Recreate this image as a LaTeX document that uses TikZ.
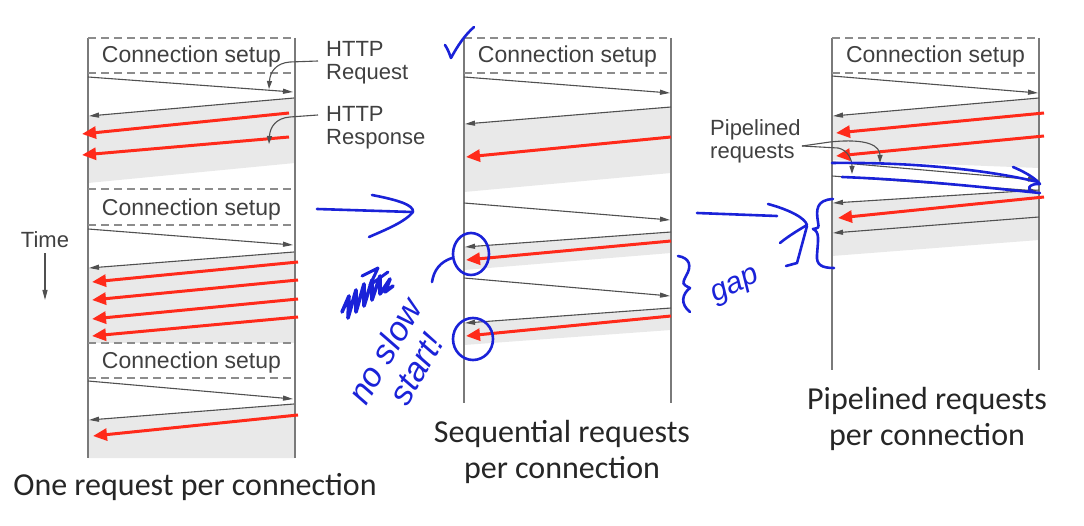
\documentclass[tikz,border=0pt]{standalone}
\usepackage{fontspec}
\setmainfont{Liberation Sans}
\newfontfamily\capfont{Carlito}
\usetikzlibrary{arrows.meta}
\definecolor{lanegray}{HTML}{7A7A7A}
\definecolor{dashgray}{HTML}{8C8C8C}
\definecolor{msggray}{HTML}{505050}
\definecolor{bandgray}{HTML}{E9E9E9}
\definecolor{txtgray}{HTML}{404040}
\definecolor{redarrow}{HTML}{FF2A1A}
\definecolor{inkblue}{HTML}{1A22D8}
\tikzset{
  lane/.style={draw=lanegray, line width=1.4pt},
  setupline/.style={draw=dashgray, line width=1.5pt, dash pattern=on 8pt off 5pt},
  msg/.style={draw=msggray, line width=1.1pt, -{Triangle[length=10pt,width=5pt]}},
  redmsg/.style={draw=redarrow, line width=3pt, -{Triangle[length=14pt,width=12pt]}},
  band/.style={fill=bandgray, draw=none},
  callout/.style={draw=msggray, line width=1.1pt, -{Triangle[length=8pt,width=5pt]}},
  ink/.style={draw=inkblue, line width=2.6pt, line cap=round, line join=round},
  lbl/.style={text=txtgray, font=\fontsize{22}{23}\selectfont, inner sep=0pt, align=left},
  setuptxt/.style={text=txtgray, font=\fontsize{23}{26}\selectfont, inner sep=0pt},
  caption/.style={font=\capfont\fontsize{32}{36}\selectfont, text=black!85, align=center, inner sep=0pt},
  inktxt/.style={text=inkblue, font=\itshape\fontsize{30}{34}\selectfont, inner sep=0pt}
}
\begin{document}
\begin{tikzpicture}[x=1pt,y=-1pt]
\useasboundingbox (0,0) rectangle (1084,526);

% ================= LEFT PANEL =================
\fill[band] (88,116) -- (295,98) -- (295,163) -- (88,183) -- cycle;
\fill[band] (88,268) -- (295,252) -- (295,343) -- (88,343) -- cycle;
\fill[band] (88,420) -- (295,404) -- (295,458) -- (88,458) -- cycle;
\draw[lane] (88,38) -- (88,458);
\draw[lane] (295,38) -- (295,458);
\foreach \y in {38,73,189,225,343,378} \draw[setupline] (88,\y) -- (295,\y);
\node[setuptxt] (cs1) at (191.5,57) {Connection setup};
\node[setuptxt] (cs2) at (191.5,210) {Connection setup};
\node[setuptxt] (cs3) at (191.5,363) {Connection setup};
% block 1
\draw[msg] (88,77) -- (293,92);
\draw[msg] (294,98) -- (89,116);
\draw[redmsg] (289,113) -- (82,134);
\draw[redmsg] (289,137) -- (82,155);
% block 2
\draw[msg] (88,229) -- (293,245);
\draw[msg] (294,252) -- (89,268);
\draw[redmsg] (298,262) -- (92,282);
\draw[redmsg] (298,280) -- (92,300);
\draw[redmsg] (298,299) -- (92,319);
\draw[redmsg] (298,317) -- (92,336);
% block 3
\draw[msg] (88,381) -- (293,399);
\draw[msg] (294,404) -- (89,420);
\draw[redmsg] (298,415) -- (93,436);
% labels
\node[lbl, anchor=west] (req) at (326,63) {HTTP\\Request};
\node[lbl, anchor=west] (resp) at (326,128) {HTTP\\Response};
\draw[callout] (318,61) -- (290,62) .. controls (276,63) and (270,72) .. (269,89);
\draw[callout] (318,115) -- (290,117) .. controls (276,118) and (270,127) .. (269,144);
\node[lbl] (time) at (45,240) {Time};
\draw[msg] (time.south) ++(0,5) coordinate (t0) -- (45,300);
\node[caption] (c1) at (195,487) {One request per connection};

% ================= MIDDLE PANEL =================
\fill[band] (464,124) -- (671,107) -- (671,173) -- (464,192) -- cycle;
\fill[band] (464,247) -- (671,232) -- (671,253) -- (464,270) -- cycle;
\fill[band] (464,323) -- (671,308) -- (671,330) -- (464,345) -- cycle;
\draw[lane] (464,38) -- (464,403);
\draw[lane] (671,38) -- (671,403);
\foreach \y in {38,73} \draw[setupline] (464,\y) -- (671,\y);
\node[setuptxt] (cs4) at (567.5,57) {Connection setup};
\draw[msg] (464,77) -- (670,93);
\draw[msg] (671,107) -- (465,124);
\draw[redmsg] (671,137) -- (466,157);
\draw[msg] (464,203) -- (670,220);
\draw[msg] (671,232) -- (465,247);
\draw[redmsg] (671,241) -- (466,260);
\draw[msg] (464,278) -- (670,296);
\draw[msg] (671,308) -- (465,323);
\draw[redmsg] (671,316) -- (466,336);
\node[caption] (c2) at (562,452) {Sequential requests\\per connection};

% ================= RIGHT PANEL =================
\fill[band] (832,116) -- (1039,98) -- (1039,168) -- (832,160) -- cycle;
\fill[band] (832,203) -- (1039,190) -- (1039,240) -- (832,256) -- cycle;
\draw[lane] (832,38) -- (832,370);
\draw[lane] (1039,38) -- (1039,370);
\foreach \y in {38,73} \draw[setupline] (832,\y) -- (1039,\y);
\node[setuptxt] (cs5) at (935.5,57) {Connection setup};
\draw[msg] (832,76) -- (1038,93);
\draw[msg] (1039,98) -- (833,116);
\draw[redmsg] (1044,113) -- (836,133);
\draw[redmsg] (1044,136) -- (836,156);
\draw[msg] (832,162) -- (1038,180);
\draw[msg] (832,176) -- (1038,191);
\draw[msg] (1039,190) -- (833,203);
\draw[redmsg] (1044,197) -- (838,218);
\draw[msg] (1039,217) -- (833,233);
\node[lbl, anchor=west] (pipe) at (710,141) {Pipelined\\requests};
\draw[callout] (802,146) -- (830,142) .. controls (868,138) and (880,146) .. (880,163);
\draw[callout] (802,146) -- (838,148) .. controls (848,150) and (852,160) .. (852,174);
\node[caption] (c3) at (927,419) {Pipelined requests\\per connection};

% ================= BLUE INK =================
% check mark
\draw[ink] (445,45) .. controls (448,50) .. (451,58) .. controls (458,45) and (465,35) .. (474,27);
% arrow 1
\draw[ink] (317,209) -- (412,212);
\draw[ink] (372,195) .. controls (398,200) and (414,205) .. (413,212) .. controls (405,222) and (385,230) .. (369,237);
% arrow 2 with hook
\draw[ink] (697,213) -- (777,216);
\draw[ink] (768,204) .. controls (790,210) and (805,218) .. (807,225) .. controls (795,232) and (786,238) .. (780,243);
\draw[ink] (807,226) -- (797,263) -- (786,266);
% brace right
\draw[ink] (833,199) .. controls (816,200) and (816,210) .. (818,222) .. controls (819,228) .. (813,229) .. controls (820,232) and (818,240) .. (817,255) .. controls (816,265) and (822,268) .. (834,268);
% brace middle + gap
\draw[ink] (678,256) .. controls (690,258) and (692,266) .. (686,276) .. controls (682,284) .. (690,288) .. controls (682,294) and (680,304) .. (690,312);
\node[inktxt, rotate=25] (gap) at (736,287) {gap};
% circles
\draw[ink] (471,254) ellipse [x radius=18pt, y radius=21pt];
\draw[ink] (473,339) ellipse [x radius=20pt, y radius=21pt];
\draw[ink] (452,258) .. controls (440,262) and (434,270) .. (432,282);
% scribble (crossed-out word)
\draw[ink, line width=3.6pt] (342,312) -- (349,296) -- (348,318) -- (356,290) -- (356,312) -- (364,284) -- (364,306) -- (372,280) -- (372,300) -- (380,276) -- (380,294) -- (390,279) -- (385,292) -- (393,286);
\draw[ink, line width=3pt] (362,276) -- (378,268) -- (370,285) -- (388,272);
% no slow start!
\node[inktxt, rotate=60, align=left, font=\itshape\fontsize{34}{36}\selectfont] (ns) at (400,360) {no slow\\\hspace*{20pt}start!};
% pipelined scribble
\draw[ink] (832,163) .. controls (900,162) and (980,168) .. (1038,182);
\draw[ink] (842,177) .. controls (920,180) and (990,188) .. (1040,193);
\draw[ink] (1013,167) .. controls (1025,172) and (1035,178) .. (1040,184) .. controls (1030,183) and (1024,190) .. (1034,192);
\end{tikzpicture}
\end{document}
